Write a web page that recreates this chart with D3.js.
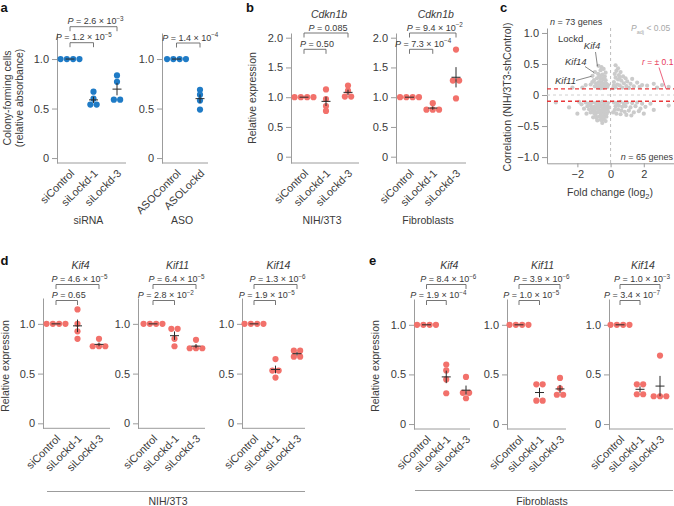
<!DOCTYPE html>
<html><head><meta charset="utf-8">
<script src="https://cdn.jsdelivr.net/npm/d3@7"></script>
<style>
body{margin:0;background:#fff;}
svg{display:block;font-family:"Liberation Sans",Arial,Helvetica,sans-serif;}
</style></head><body>
<svg id="chart" width="674" height="506"></svg>
<script>
// ---------------- DATA ----------------
const siCats = ["siControl", "siLockd-1", "siLockd-3"];
const asoCats = ["ASOControl", "ASOLockd"];

// panel a : colony-forming cells (relative absorbance)
const colonySiRNA = [[1, 1, 1, 1], [0.67, 0.60, 0.54, 0.54], [0.835, 0.77, 0.59, 0.59]];
const colonyASO = [[1, 1, 1, 1], [0.69, 0.64, 0.58, 0.49]];
const pColonySiRNA = ["1.2 × 10^−5", "2.6 × 10^−3"];
const pColonyASO = ["1.4 × 10^−4"];

// panel b : Cdkn1b relative expression
const cdkn1bNIH = [[1, 1, 1, 1], [1.13, 0.97, 0.85, 0.77], [1.195, 1.11, 1.01, 1.01]];
const cdkn1bFib = [[1, 1, 1, 1], [0.90, 0.79, 0.79, 0.79], [1.80, 1.28, 1.28, 0.98]];
const pCdkn1bNIH = ["0.50", "0.085"];
const pCdkn1bFib = ["7.3 × 10^−4", "9.4 × 10^−2"];

// panel d : NIH/3T3
const kif4NIH = [[1, 1, 1, 1], [1.145, 1.0, 0.925, 0.85], [0.85, 0.775, 0.775, 0.775]];
const kif11NIH = [[1, 1, 1, 1], [0.95, 0.95, 0.85, 0.775], [0.84, 0.755, 0.755, 0.755]];
const kif14NIH = [[1, 1, 1, 1], [0.646, 0.53, 0.53, 0.46], [0.73, 0.73, 0.67, 0.67]];
const pKif4NIH = ["0.65", "4.6 × 10^−5"];
const pKif11NIH = ["2.8 × 10^−2", "6.4 × 10^−5"];
const pKif14NIH = ["1.9 × 10^−5", "1.3 × 10^−6"];

// panel e : Fibroblasts
const kif4Fib = [[1, 1, 1, 1], [0.60, 0.54, 0.45, 0.31], [0.475, 0.315, 0.315, 0.26]];
const kif11Fib = [[1, 1, 1, 1], [0.40, 0.40, 0.235, 0.235], [0.465, 0.36, 0.295, 0.295]];
const kif14Fib = [[1, 1, 1, 1], [0.40, 0.40, 0.30, 0.30], [0.69, 0.28, 0.28, 0.28]];
const pKif4Fib = ["1.9 × 10^−4", "8.4 × 10^−6"];
const pKif11Fib = ["1.0 × 10^−5", "3.9 × 10^−6"];
const pKif14Fib = ["3.4 × 10^−7", "1.0 × 10^−3"];

// panel c : fold change (log2) vs correlation
const scatterUpLeft = [[-0.55,0.45],[-0.6,0.40],[-0.42,0.42],[-0.75,0.34],[-0.62,0.31],[-0.5,0.33],[-0.35,0.30],[-0.82,0.27],[-0.6,0.26],[-0.45,0.25],[-0.3,0.24],[-1.0,0.24],[-0.7,0.21],[-0.55,0.20],[-0.4,0.19],[-0.25,0.18],[-0.88,0.19],[-1.2,0.17],[-0.65,0.16],[-0.5,0.15],[-0.35,0.14],[-0.2,0.13],[-0.95,0.14],[-0.75,0.12],[-0.6,0.11],[-0.45,0.115],[-1.5,0.16],[-1.7,0.12],[-2.3,0.12],[-0.3,0.36],[-1.1,0.21],[-0.15,0.16],[-0.8,0.15],[-0.4,0.28],[-0.7,0.29]];
const scatterUpRight = [[0.3,0.48],[0.45,0.43],[0.35,0.39],[0.6,0.37],[0.25,0.34],[0.5,0.32],[0.75,0.30],[0.3,0.28],[0.9,0.27],[0.45,0.25],[0.65,0.23],[1.0,0.22],[0.2,0.21],[0.8,0.19],[1.2,0.18],[0.4,0.17],[0.55,0.155],[0.95,0.145],[1.4,0.14],[0.3,0.125],[0.7,0.12],[1.1,0.115],[0.15,0.11],[1.6,0.20],[1.9,0.16],[2.2,0.15],[2.6,0.18],[3.1,0.16],[3.5,0.13],[1.3,0.26],[0.55,0.28],[0.2,0.155],[1.75,0.13],[2.8,0.12]];
const scatterDownLeft = [[-1.5,-0.12],[-1.3,-0.14],[-1.1,-0.12],[-0.9,-0.13],[-0.7,-0.12],[-0.5,-0.11],[-0.3,-0.12],[-0.15,-0.13],[-1.4,-0.18],[-1.2,-0.17],[-1.0,-0.19],[-0.8,-0.17],[-0.6,-0.18],[-0.4,-0.16],[-0.2,-0.18],[-1.6,-0.22],[-1.3,-0.23],[-1.1,-0.24],[-0.9,-0.22],[-0.7,-0.24],[-0.5,-0.22],[-0.35,-0.24],[-0.2,-0.23],[-0.1,-0.2],[-1.2,-0.28],[-1.0,-0.29],[-0.8,-0.28],[-0.6,-0.30],[-0.45,-0.28],[-0.3,-0.29],[-0.15,-0.27],[-0.9,-0.33],[-0.7,-0.35],[-0.55,-0.34],[-0.4,-0.33],[-0.25,-0.35],[-1.05,-0.36],[-0.6,-0.40],[-0.45,-0.39],[-0.8,-0.41],[-0.5,-0.45],[-0.3,-0.42],[-1.75,-0.15],[-2.0,-0.30],[-2.5,-0.20],[-3.3,-0.12],[-1.9,-0.11],[-1.45,-0.30],[-0.65,-0.15],[-0.25,-0.31],[-0.95,-0.26],[-0.55,-0.26],[-0.75,-0.20],[-0.35,-0.20],[-1.15,-0.21],[-0.85,-0.37],[-0.4,-0.37]];
const scatterDownRight = [[0.2,-0.12],[0.4,-0.13],[0.6,-0.11],[0.8,-0.14],[1.0,-0.12],[1.3,-0.13],[1.6,-0.12],[1.9,-0.14],[0.3,-0.18],[0.5,-0.17],[0.7,-0.19],[0.9,-0.18],[1.2,-0.2],[1.5,-0.18],[1.8,-0.22],[2.1,-0.19],[0.25,-0.24],[0.45,-0.23],[0.65,-0.25],[0.85,-0.27],[1.1,-0.25],[1.4,-0.28],[1.7,-0.26],[2.0,-0.3],[0.35,-0.3],[0.6,-0.31],[0.95,-0.32],[0.15,-0.28],[2.4,-0.14],[3.5,-0.17],[2.6,-0.24],[1.25,-0.33]];
const labeledGenes = ["Kif4", "Kif14", "Kif11"];
const labeledFC = [-0.73, -0.94, -1.09];
const labeledR = [0.47, 0.37, 0.31];
const rThreshold = 0.1;

// ---------------- DRAWING ----------------
const svg = d3.select("#chart");
const TXT = "#3a3a3a", AX = "#9c9c9c", BLUE = "#1f7bc6", RED = "#f2716b", GREY = "#cbcbcb";

function pText(g, x, y, str) {
  const t = g.append("text").attr("x", x).attr("y", y).attr("text-anchor", "middle")
    .attr("font-size", 9).attr("fill", TXT);
  t.append("tspan").attr("font-style", "italic").text("P");
  const parts = str.split("^");
  t.append("tspan").text(" = " + parts[0]);
  if (parts[1]) t.append("tspan").attr("dy", -3.5).attr("font-size", 6.3).text(parts[1]);
}

function styleAxis(ax, fs) {
  ax.attr("font-family", null).attr("font-size", null);
  ax.select(".domain").attr("stroke", AX);
  ax.selectAll(".tick line").attr("stroke", AX);
  ax.selectAll(".tick text").attr("fill", TXT).attr("font-size", fs);
}

const fmtTick = v => v === 0 ? "0" : d3.format(".1f")(v);

function strip(o) {
  const g = svg.append("g");
  const x = d3.scalePoint().domain(o.cats).range(o.cx);
  const y = d3.scaleLinear().domain(o.yDomain).range([o.yBot, o.yTop]);
  const ax = g.append("g").attr("transform", `translate(${o.x0},0)`)
    .call(d3.axisLeft(y).tickValues(o.ticks).tickFormat(fmtTick).tickSize(5).tickPadding(3).tickSizeOuter(0));
  styleAxis(ax, 11);
  g.append("line").attr("x1", o.x0).attr("x2", o.x1).attr("y1", o.yBot).attr("y2", o.yBot).attr("stroke", AX);

  // dots
  const dots = [];
  o.values.forEach((vals, i) => {
    const counts = d3.rollup(vals, v => v.length, d => d);
    const seen = new Map();
    vals.forEach(v => {
      const n = counts.get(v), k = seen.get(v) || 0;
      seen.set(v, k + 1);
      dots.push({ cx: x(o.cats[i]) + (k - (n - 1) / 2) * 6.3, cy: y(v) });
    });
  });
  g.selectAll("circle.dot").data(dots).join("circle").attr("class", "dot")
    .attr("cx", d => d.cx).attr("cy", d => d.cy).attr("r", 3.1).attr("fill", o.color);

  // mean +- sem crosses
  o.values.forEach((vals, i) => {
    const m = d3.mean(vals), se = d3.deviation(vals) / Math.sqrt(vals.length);
    const cx = x(o.cats[i]);
    g.append("line").attr("x1", cx - 4.5).attr("x2", cx + 4.5).attr("y1", y(m)).attr("y2", y(m))
      .attr("stroke", "#2a2a2a").attr("stroke-width", 1);
    if (se > 0) g.append("line").attr("x1", cx).attr("x2", cx).attr("y1", y(m - se)).attr("y2", y(m + se))
      .attr("stroke", "#2a2a2a").attr("stroke-width", 1);
  });

  // category labels
  o.cats.forEach(c => {
    g.append("text").attr("transform", `translate(${x(c) + 5},${o.yBot + 11}) rotate(-45)`)
      .attr("text-anchor", "end").attr("font-size", 10.8).attr("fill", TXT).text(c);
  });

  // brackets
  o.pvals.forEach((p, j) => {
    const a = x(o.cats[0]), b = x(o.cats[j + 1]), by = o.brY[j];
    g.append("path").attr("d", `M${a},${by + 4.5}V${by}H${b}V${by + 4.5}`)
      .attr("fill", "none").attr("stroke", "#666").attr("stroke-width", 0.9);
    pText(g, (a + b) / 2 + 2, by - 2.4, p);
  });

  if (o.title) g.append("text").attr("x", x(o.cats[1]) + 3).attr("y", o.titleY).attr("text-anchor", "middle")
    .attr("font-size", 10.5).attr("font-style", "italic").attr("fill", TXT).text(o.title);
  if (o.group) g.append("text").attr("x", (o.x0 + o.x1) / 2 - 3).attr("y", 224).attr("text-anchor", "middle")
    .attr("font-size", 10.5).attr("fill", TXT).text(o.group);
}

// row 1
const rowA = { yTop: 33, yBot: 163, yDomain: [-0.05, 1.263], ticks: [0, 0.5, 1] };
const rowB = { yTop: 33, yBot: 163, yDomain: [-0.106, 2.079], ticks: [0, 0.5, 1, 1.5, 2] };
strip({ ...rowA, cats: siCats, values: colonySiRNA, color: BLUE, x0: 57, x1: 126, cx: [70, 117], pvals: pColonySiRNA, brY: [42.7, 26.7], group: "siRNA" });
strip({ ...rowA, cats: asoCats, values: colonyASO, color: BLUE, x0: 162, x1: 208, cx: [176.5, 200], pvals: pColonyASO, brY: [43], group: "ASO" });
strip({ ...rowB, cats: siCats, values: cdkn1bNIH, color: RED, x0: 291, x1: 359, cx: [304, 348], pvals: pCdkn1bNIH, brY: [49.3, 33], title: "Cdkn1b", titleY: 18, group: "NIH/3T3" });
strip({ ...rowB, cats: siCats, values: cdkn1bFib, color: RED, x0: 396, x1: 466, cx: [409.5, 456], pvals: pCdkn1bFib, brY: [49.3, 33], title: "Cdkn1b", titleY: 18, group: "Fibroblasts" });

// row 2
const rowD = { yTop: 298, yBot: 428.3, yDomain: [-0.05, 1.26], ticks: [0, 0.5, 1], brY: [300.5, 284.5], titleY: 269 };
const rowE = { yTop: 299, yBot: 429, yDomain: [-0.05, 1.26], ticks: [0, 0.5, 1], brY: [300.5, 284.5], titleY: 268.5 };
strip({ ...rowD, cats: siCats, values: kif4NIH, color: RED, x0: 43, x1: 110, cx: [56, 99], pvals: pKif4NIH, title: "Kif4" });
strip({ ...rowD, cats: siCats, values: kif11NIH, color: RED, x0: 138, x1: 205, cx: [153, 196], pvals: pKif11NIH, title: "Kif11" });
strip({ ...rowD, cats: siCats, values: kif14NIH, color: RED, x0: 242, x1: 305, cx: [254, 297], pvals: pKif14NIH, title: "Kif14" });
strip({ ...rowE, cats: siCats, values: kif4Fib, color: RED, x0: 414, x1: 470, cx: [426.5, 466], pvals: pKif4Fib, title: "Kif4" });
strip({ ...rowE, cats: siCats, values: kif11Fib, color: RED, x0: 507, x1: 566, cx: [519, 560], pvals: pKif11Fib, title: "Kif11" });
strip({ ...rowE, cats: siCats, values: kif14Fib, color: RED, x0: 609, x1: 673, cx: [620, 660], pvals: pKif14Fib, title: "Kif14" });

// group lines row 2
svg.append("line").attr("x1", 47).attr("x2", 305).attr("y1", 491.5).attr("y2", 491.5).attr("stroke", AX);
svg.append("text").attr("x", 168).attr("y", 505).attr("text-anchor", "middle").attr("font-size", 10.5).attr("fill", TXT).text("NIH/3T3");
svg.append("line").attr("x1", 415).attr("x2", 673).attr("y1", 490.5).attr("y2", 490.5).attr("stroke", AX);
svg.append("text").attr("x", 542).attr("y", 505).attr("text-anchor", "middle").attr("font-size", 10.5).attr("fill", TXT).text("Fibroblasts");

// y-axis titles
function vtitle(x, y, lines) {
  lines.forEach((t, i) => {
    svg.append("text").attr("transform", `translate(${x[i]},${y}) rotate(-90)`).attr("text-anchor", "middle")
      .attr("font-size", 10.5).attr("fill", TXT).text(t);
  });
}
vtitle([11, 23], 98, ["Colony-forming cells", "(relative absorbance)"]);
vtitle([256], 98, ["Relative expression"]);
vtitle([9], 366, ["Relative expression"]);
vtitle([379], 366, ["Relative expression"]);

// panel letters
[["a", 0.5, 12], ["b", 246, 12], ["c", 500, 12], ["d", 0.5, 265], ["e", 369, 265]].forEach(([l, x, y]) =>
  svg.append("text").attr("x", x).attr("y", y).attr("font-size", 13).attr("font-weight", "bold").attr("fill", "#111").text(l));

// ---------------- panel c ----------------
const gc = svg.append("g");
const sx = d3.scaleLinear().domain([-3.83, 4.0]).range([547, 677]);
const sy = d3.scaleLinear().domain([-1.1, 1.08]).range([163.3, 28]);
const axy = gc.append("g").attr("transform", "translate(547,0)")
  .call(d3.axisLeft(sy).tickValues([-1, -0.5, 0, 0.5, 1]).tickFormat(fmtTick).tickSize(5).tickPadding(3).tickSizeOuter(0));
styleAxis(axy, 11);
const axx = gc.append("g").attr("transform", "translate(0,163.3)")
  .call(d3.axisBottom(sx).tickValues([-2, 0, 2]).tickFormat(d3.format("d")).tickSize(4).tickPadding(3).tickSizeOuter(0));
styleAxis(axx, 11);

// reference lines
gc.append("line").attr("x1", sx(0)).attr("x2", sx(0)).attr("y1", sy(1.08)).attr("y2", sy(-1.1))
  .attr("stroke", "#bdbdbd").attr("stroke-dasharray", "3,3");
gc.append("line").attr("x1", 547).attr("x2", 677).attr("y1", sy(0)).attr("y2", sy(0))
  .attr("stroke", "#d0d0d0").attr("stroke-dasharray", "3,3");

const allPts = [...scatterUpLeft, ...scatterUpRight, ...scatterDownLeft, ...scatterDownRight,
  ...labeledFC.map((f, i) => [f, labeledR[i]])];
gc.selectAll("circle.pt").data(allPts).join("circle").attr("class", "pt")
  .attr("cx", d => sx(d[0])).attr("cy", d => sy(d[1])).attr("r", 2.1).attr("fill", GREY);

[rThreshold, -rThreshold].forEach(r => gc.append("line").attr("x1", 547).attr("x2", 677)
  .attr("y1", sy(r)).attr("y2", sy(r)).attr("stroke", "#e8383a").attr("stroke-width", 1.3).attr("stroke-dasharray", "4,3"));

// annotations
const annPos = [[592, 49], [565, 65], [555, 84]];
const leadStart = [[595.5, 52], [585, 66.5], [576, 80.5]];
labeledGenes.forEach((gname, i) => {
  gc.append("text").attr("x", annPos[i][0]).attr("y", annPos[i][1]).attr("text-anchor", i === 0 ? "middle" : "start")
    .attr("font-size", 9.5).attr("font-style", "italic").attr("fill", TXT).text(gname);
  gc.append("line").attr("x1", leadStart[i][0]).attr("y1", leadStart[i][1])
    .attr("x2", sx(labeledFC[i]) - 1).attr("y2", sy(labeledR[i]) + 0.5).attr("stroke", "#555").attr("stroke-width", 0.7);
});
gc.append("text").attr("x", 558).attr("y", 41.5).attr("font-size", 9.5).attr("fill", TXT).text("Lockd");

const t73 = gc.append("text").attr("x", 550).attr("y", 25).attr("font-size", 9).attr("fill", TXT);
t73.append("tspan").attr("font-style", "italic").text("n");
t73.append("tspan").text(" = 73 genes");
const t65 = gc.append("text").attr("x", 673).attr("y", 160).attr("text-anchor", "end").attr("font-size", 9).attr("fill", TXT);
t65.append("tspan").attr("font-style", "italic").text("n");
t65.append("tspan").text(" = 65 genes");

const tp = gc.append("text").attr("x", 631).attr("y", 31).attr("font-size", 8.5).attr("fill", "#a8a8a8");
tp.append("tspan").attr("font-style", "italic").text("P");
tp.append("tspan").attr("dy", 2.5).attr("font-size", 5.5).text("adj");
tp.append("tspan").attr("dy", -2.5).text(" < 0.05");

const tr = gc.append("text").attr("x", 642).attr("y", 65).attr("font-size", 8.5).attr("fill", "#e8385a");
tr.append("tspan").attr("font-style", "italic").text("r");
tr.append("tspan").text(" = ± 0.1");
gc.append("line").attr("x1", 659).attr("y1", 67.5).attr("x2", 666).attr("y2", sy(rThreshold))
  .attr("stroke", "#e8385a").attr("stroke-width", 0.8);

// titles for c
svg.append("text").attr("x", 610).attr("y", 196).attr("text-anchor", "middle").attr("font-size", 10.5).attr("fill", TXT)
  .call(t => { t.append("tspan").text("Fold change (log"); t.append("tspan").attr("dy", 3).attr("font-size", 7.5).text("2");
    t.append("tspan").attr("dy", -3).text(")"); });
vtitle([511], 97, ["Correlation (NIH/3T3-shControl)"]);
</script>
</body></html>
